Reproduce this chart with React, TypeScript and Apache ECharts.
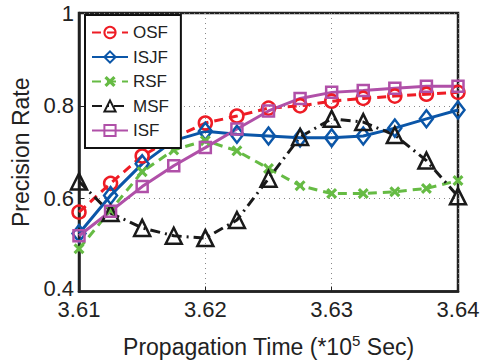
import React, { useEffect, useRef } from "react";
import * as echarts from "echarts";

const xValues = [3.61, 3.6125, 3.615, 3.6175, 3.62, 3.6225, 3.625, 3.6275, 3.63, 3.6325, 3.635, 3.6375, 3.64];
const osf = [0.571, 0.633, 0.692, 0.731, 0.763, 0.778, 0.795, 0.8, 0.81, 0.816, 0.821, 0.825, 0.829];
const isjf = [0.525, 0.607, 0.675, 0.725, 0.745, 0.739, 0.735, 0.731, 0.731, 0.735, 0.752, 0.772, 0.791];
const rsf = [0.492, 0.575, 0.658, 0.705, 0.725, 0.703, 0.665, 0.628, 0.611, 0.611, 0.615, 0.622, 0.639];
const msf = [0.637, 0.569, 0.537, 0.52, 0.515, 0.554, 0.643, 0.733, 0.772, 0.765, 0.737, 0.682, 0.605];
const isf = [0.52, 0.573, 0.626, 0.671, 0.71, 0.75, 0.789, 0.816, 0.829, 0.833, 0.838, 0.842, 0.842];

const FONT = "'Liberation Sans', Arial, sans-serif";
const CROSS = "path://M0,2 L2,0 L5,3 L8,0 L10,2 L7,5 L10,8 L8,10 L5,7 L2,10 L0,8 L3,5 Z";

function pairs(ys: number[]) {
  return ys.map((y, i) => [xValues[i], y]);
}

export default function App() {
  const ref = useRef<HTMLDivElement>(null);
  useEffect(() => {
    if (!ref.current) return;
    const chart = echarts.init(ref.current, undefined, { renderer: "svg" });
    const hollow = (c: string) => ({ color: "rgba(255,255,255,0)", borderColor: c, borderWidth: 2.5 });
    const mk = (name: string, data: number[], color: string, type: any, symbol: string, size: any, filled = false) => ({
      name,
      type: "line",
      data: pairs(data),
      symbol,
      symbolSize: size,
      showSymbol: true,
      lineStyle: { color, width: 3, type },
      itemStyle: filled ? { color } : hollow(color),
      emphasis: { disabled: true },
      z: 2,
    });
    chart.setOption({
      animation: false,
      backgroundColor: "#fff",
      textStyle: { fontFamily: FONT },
      grid: { left: 79, right: 28, top: 13, bottom: 69, show: true, borderColor: "#222", borderWidth: 2.5 },
      legend: {
        orient: "vertical",
        left: 85,
        top: 15,
        backgroundColor: "#fff",
        borderColor: "#111",
        borderWidth: 2,
        padding: [9, 12, 9, 6],
        itemWidth: 36,
        itemHeight: 14,
        itemGap: 7.5,
        textStyle: { fontSize: 17, color: "#222", fontFamily: FONT },
        data: ["OSF", "ISJF", "RSF", "MSF", "ISF"],
      },
      xAxis: {
        type: "value",
        min: 3.61,
        max: 3.64,
        interval: 0.01,
        name: "Propagation Time (*10{sup|5} Sec)",
        nameLocation: "middle",
        nameGap: 41,
        nameTextStyle: {
          fontSize: 23,
          color: "#222",
          fontFamily: FONT,
          rich: { sup: { fontSize: 15, color: "#222", padding: [0, 0, 13, 0], fontFamily: FONT } },
        },
        axisLine: { show: true, lineStyle: { color: "#222", width: 2.5 } },
        axisTick: { show: true, inside: true, length: 5, lineStyle: { color: "#222" } },
        axisLabel: { fontSize: 22, color: "#222", margin: 7, formatter: (v: number) => v.toFixed(2) },
        splitLine: { show: true, lineStyle: { color: "#888", type: [1, 4], width: 1 } },
      },
      yAxis: {
        type: "value",
        min: 0.4,
        max: 1,
        interval: 0.2,
        name: "Precision Rate",
        nameLocation: "middle",
        nameGap: 44,
        nameTextStyle: { fontSize: 23, color: "#222", fontFamily: FONT },
        axisLine: { show: true, lineStyle: { color: "#222", width: 2.5 } },
        axisTick: { show: true, inside: true, length: 5, lineStyle: { color: "#222" } },
        axisLabel: {
          fontSize: 22,
          color: "#222",
          margin: 5,
          formatter: (v: number) => (Math.abs(v - 1) < 1e-9 ? "1" : Math.abs(v - 0.4) < 1e-9 ? "{lo|0.4}" : v.toFixed(1)),
          rich: { lo: { fontSize: 22, color: "#222", padding: [0, 0, 6, 0], fontFamily: FONT } },
        },
        splitLine: { show: true, lineStyle: { color: "#888", type: [1, 4], width: 1 } },
      },
      series: [
        mk("OSF", osf, "#ee1c25", [9, 6], "circle", 13),
        mk("ISJF", isjf, "#0b56a8", "solid", "diamond", [13, 17]),
        mk("RSF", rsf, "#66bb44", [9, 6], CROSS, 11, true),
        mk("MSF", msf, "#1a1a1a", [10, 5, 2, 5], "triangle", 16),
        mk("ISF", isf, "#b050a8", "solid", "rect", 11),
      ],
    });
    return () => chart.dispose();
  }, []);
  return <div ref={ref} style={{ width: 486, height: 363, position: "absolute", left: 0, top: 0 }} />;
}
